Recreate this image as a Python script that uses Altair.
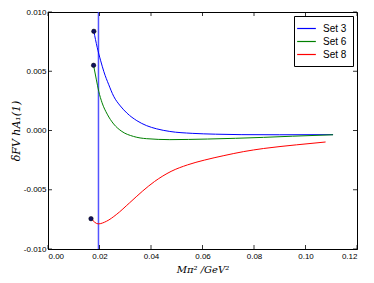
import altair as alt
import pandas as pd

# Curve samples
set3_x = [0.0178, 0.0191, 0.0204, 0.0217, 0.0236, 0.0255, 0.0281, 0.0307, 0.0345, 0.0383, 0.0422, 0.0473,
          0.0560, 0.0650, 0.0750, 0.0900, 0.1107]
set3_y = [0.00837, 0.00702, 0.00593, 0.00496, 0.00386, 0.00289, 0.00207, 0.00146, 0.00083, 0.00041, 0.00014,
          -0.00008, -0.00024, -0.00031, -0.00035, -0.00036, -0.00035]

set6_x = [0.0177, 0.0188, 0.0197, 0.0210, 0.0230, 0.0255, 0.0287, 0.0332, 0.0383, 0.0473, 0.0619, 0.0837, 0.0950, 0.1107]
set6_y = [0.0055, 0.00427, 0.00331, 0.00234, 0.00138, 0.00055, -0.00008, -0.0005, -0.00069, -0.00077, -0.00072,
          -0.00058, -0.00048, -0.00036]

set8_x = [0.0168, 0.0195, 0.0227, 0.0265, 0.0317, 0.0368, 0.0414, 0.0478, 0.0542, 0.0607, 0.0683, 0.0760,
          0.0837, 0.0965, 0.1078]
set8_y = [-0.00744, -0.00788, -0.00766, -0.0071, -0.0061, -0.0051, -0.0043, -0.00345, -0.0029, -0.0025,
          -0.00212, -0.00178, -0.00152, -0.00121, -0.00097]

series_names = ["Set 3", "Set 6", "Set 8"]
series_colors = ["#0000ff", "#008000", "#ff0000"]

dot_x = [0.0178, 0.0177, 0.0167]
dot_y = [0.00837, 0.0055, -0.00744]

vline_x = [0.0196]

x_ticks = [0.0, 0.02, 0.04, 0.06, 0.08, 0.10, 0.12]
y_ticks = [-0.010, -0.005, 0.0, 0.005, 0.010]

X_MIN, X_MAX = 0.0, 0.12
Y_MIN, Y_MAX = -0.010, 0.010

rows = []
for name, xs, ys in zip(series_names, [set3_x, set6_x, set8_x], [set3_y, set6_y, set8_y]):
    for i, (a, b) in enumerate(zip(xs, ys)):
        rows.append({"series": name, "x": a, "y": b, "order": i})
lines_df = pd.DataFrame(rows)
dots_df = pd.DataFrame({"x": dot_x, "y": dot_y})
vline_df = pd.DataFrame({"x": vline_x, "y": [Y_MIN], "y2": [Y_MAX]})
xt_df = pd.DataFrame({"x": x_ticks, "ylo": [Y_MIN] * len(x_ticks), "yhi": [Y_MAX] * len(x_ticks)})
yt_df = pd.DataFrame({"y": y_ticks, "xlo": [X_MIN] * len(y_ticks), "xhi": [X_MAX] * len(y_ticks)})

xscale = alt.Scale(domain=[X_MIN, X_MAX], nice=False, zero=False)
yscale = alt.Scale(domain=[Y_MIN, Y_MAX], nice=False, zero=False)

xaxis = alt.Axis(values=x_ticks, labelExpr="format(datum.value, '.2f')", title="Mπ² /GeV²",
                 grid=False, ticks=False, labelPadding=3, titleFont="DejaVu Serif",
                 titleFontStyle="italic", titleFontWeight="normal", titleFontSize=10,
                 labelFontSize=8, titlePadding=4)
yaxis = alt.Axis(values=y_ticks, labelExpr="replace(format(datum.value, '.3f'), '\u2212', '-')",
                 title="δFV hA₁(1)", grid=False, ticks=False, labelPadding=2,
                 titleFont="DejaVu Serif", titleFontStyle="italic", titleFontWeight="normal",
                 titleFontSize=11, labelFontSize=8, titlePadding=2)

lines = alt.Chart(lines_df).mark_line(strokeWidth=1, interpolate="monotone").encode(
    x=alt.X("x:Q", scale=xscale, axis=xaxis),
    y=alt.Y("y:Q", scale=yscale, axis=yaxis),
    color=alt.Color("series:N", scale=alt.Scale(domain=series_names, range=series_colors),
                    legend=alt.Legend(title=None, orient="top-right", offset=4,
                                      symbolType="M-1.7,0L1.7,0", symbolStrokeWidth=1.2,
                                      symbolSize=121, labelOffset=10,
                                      strokeColor="#000000", fillColor="white", padding=6,
                                      labelFontSize=10, rowPadding=1, cornerRadius=0,
                                      labelFont="Liberation Sans")),
    order="order:Q",
)

vline = alt.Chart(vline_df).mark_rule(color="#3535ff", strokeWidth=1.5, opacity=0.85).encode(
    x=alt.X("x:Q", scale=xscale),
    y=alt.Y("y:Q", scale=yscale),
    y2="y2:Q",
)

dots = alt.Chart(dots_df).mark_point(filled=True, size=20, color="#101060", opacity=1,
                                      stroke="black", strokeWidth=0.5).encode(
    x=alt.X("x:Q", scale=xscale),
    y=alt.Y("y:Q", scale=yscale),
)

# inward ticks on all four sides
tick_style = dict(color="black", strokeWidth=0.8)
bottom_ticks = alt.Chart(xt_df).mark_rule(y2Offset=-4, **tick_style).encode(
    x=alt.X("x:Q", scale=xscale), y=alt.Y("ylo:Q", scale=yscale), y2="ylo:Q")
top_ticks = alt.Chart(xt_df).mark_rule(y2Offset=4, **tick_style).encode(
    x=alt.X("x:Q", scale=xscale), y=alt.Y("yhi:Q", scale=yscale), y2="yhi:Q")
left_ticks = alt.Chart(yt_df).mark_rule(x2Offset=4, **tick_style).encode(
    y=alt.Y("y:Q", scale=yscale), x=alt.X("xlo:Q", scale=xscale), x2="xlo:Q")
right_ticks = alt.Chart(yt_df).mark_rule(x2Offset=-4, **tick_style).encode(
    y=alt.Y("y:Q", scale=yscale), x=alt.X("xhi:Q", scale=xscale), x2="xhi:Q")

chart = alt.layer(vline, lines, dots, bottom_ticks, top_ticks, left_ticks, right_ticks).properties(
    width=309, height=237,
    autosize=alt.AutoSizeParams(type="none"),
    padding={"left": 40, "top": 4, "right": 9, "bottom": 26},
    background="white",
).configure_view(stroke="black", strokeWidth=1).configure_axis(
    domainColor="black", labelFont="Liberation Sans", labelColor="black",
    titleColor="black",
)

chart.save("out.html", embed_options={"renderer": "svg", "actions": False})
